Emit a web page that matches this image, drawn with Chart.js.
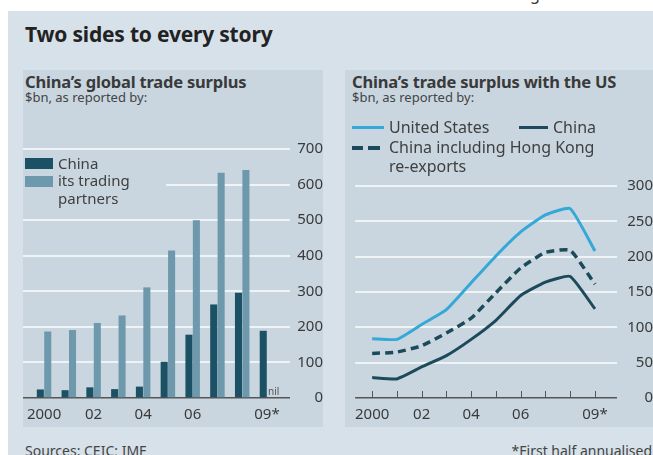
<!DOCTYPE html>
<html lang="en">
<head>
<meta charset="UTF-8">
<title>Two sides to every story</title>
<script src="https://cdn.jsdelivr.net/npm/chart.js"></script>
<style>
  html, body { margin: 0; padding: 0; background: #fff; }
  body { width: 653px; height: 455px; position: relative; overflow: hidden; font-family: "Noto Sans", Lato, sans-serif; color: #333; }
  .panel { position: absolute; left: 8px; top: 11px; right: 0; bottom: 0; background: #d6e1e9; }
  .box { position: absolute; background: #c9d6df; }
  .txt { position: absolute; white-space: nowrap; line-height: 1; }
  .title { font-size: 21px; font-weight: 700; color: #222; letter-spacing: -0.2px; }
  .sub { font-size: 16.5px; font-weight: 700; color: #3a3a3a; letter-spacing: -0.2px; }
  .unit { font-size: 13px; color: #444; }
  .leg { font-size: 16px; color: #3f3f3f; }
  .leg.small { font-size: 15px; }
  .swatch { position: absolute; }
  canvas { position: absolute; }
  .foot { font-size: 14px; color: #444; }
</style>
</head>
<body>
<div class="txt" style="left:530px; top:-14px; font-size:16px;">g</div>
<div class="panel"></div>
<div class="box" style="left:23px; top:70px; width:300px; height:357px;"></div>
<div class="box" style="left:345px; top:70px; width:308px; height:357px;"></div>

<div class="txt title" style="left:25px; top:24px;">Two sides to every story</div>

<div class="txt sub" style="left:25px; top:74px;">China’s global trade surplus</div>
<div class="txt unit" style="left:25px; top:91px;">$bn, as reported by:</div>

<div class="txt sub" style="left:352px; top:74px;">China’s trade surplus with the US</div>
<div class="txt unit" style="left:352px; top:91px;">$bn, as reported by:</div>

<canvas id="globalChart" style="left:23px; top:136px;" width="300" height="291"></canvas>
<canvas id="usChart" style="left:355px; top:173px;" width="298" height="254"></canvas>

<!-- bar legend sits over the gridlines -->
<div class="box" style="left:23px; top:152px; width:143px; height:55px;"></div>
<div class="swatch" style="left:25px; top:158px; width:28px; height:11px; background:#1c5064;"></div>
<div class="swatch" style="left:25px; top:176px; width:28px; height:11px; background:#6e98ab;"></div>
<div class="txt leg small" style="left:58px; top:156px;">China</div>
<div class="txt leg small" style="left:58px; top:173px;">its trading</div>
<div class="txt leg small" style="left:58px; top:191px;">partners</div>

<!-- line legend -->
<div class="swatch" style="left:352px; top:126px; width:32px; height:3px; background:#35a8d8;"></div>
<div class="txt leg" style="left:389px; top:119px;">United States</div>
<div class="swatch" style="left:519px; top:126px; width:29px; height:3px; background:#1d4a5a;"></div>
<div class="txt leg" style="left:553px; top:119px;">China</div>
<div class="swatch" style="left:352px; top:146px; width:11px; height:4px; background:#1d4a5a;"></div>
<div class="swatch" style="left:368px; top:146px; width:12px; height:4px; background:#1d4a5a;"></div>
<div class="txt leg" style="left:389px; top:139px;">China including Hong Kong</div>
<div class="txt leg" style="left:389px; top:158px;">re-exports</div>

<div class="txt foot" style="left:25px; top:444px;">Sources: CEIC; IMF</div>
<div class="txt foot" style="right:1px; top:444px;">*First half annualised</div>

<script>
// years on the x axis, only some of them get a label
const years = ['2000', '01', '02', '03', '04', '05', '06', '07', '08', '09*'];
const labelledYears = [0, 2, 4, 6, 9];

// global trade surplus, $bn
const chinaReported = [24, 22, 30, 25, 32, 102, 178, 263, 296, 189];
const partnersReported = [187, 191, 211, 232, 311, 415, 500, 633, 641, null];

// surplus with the US, $bn
const usReported = [84, 83, 104, 125, 163, 201, 235, 259, 268, 208];
const chinaToUs = [29, 27, 44, 60, 83, 110, 145, 164, 172, 126];
const chinaWithHk = [63, 65, 74, 92, 113, 149, 184, 206, 209, 161];

const globalTicks = [0, 100, 200, 300, 400, 500, 600, 700];
const usTicks = [0, 50, 100, 150, 200, 250, 300];

Chart.defaults.font.family = '"Noto Sans", Lato, sans-serif';
Chart.defaults.font.size = 15;
Chart.defaults.color = '#3a3a3a';
Chart.defaults.animation = false;

const toPoints = arr => arr.map((v, i) => ({ x: i, y: v }));

function xAxis(min, max) {
  return {
    type: 'linear',
    min: min,
    max: max,
    bounds: 'data',
    offset: false,
    grid: { display: false },
    border: { display: false },
    afterBuildTicks: s => { s.ticks = labelledYears.map(v => ({ value: v })); },
    afterFit: s => { s.height = 29; },
    ticks: { autoSkip: false, maxRotation: 0, padding: 0, stepSize: 1, callback: v => years[v] }
  };
}

function yAxis(max, ticks, width) {
  return {
    position: 'right',
    min: 0,
    max: max,
    border: { display: false },
    afterBuildTicks: s => { s.ticks = ticks.map(v => ({ value: v })); },
    afterFit: s => { s.width = width; },
    grid: {
      drawTicks: false,
      color: c => c.tick && c.tick.value === 0 ? '#555' : '#eef3f6',
      lineWidth: c => c.tick && c.tick.value === 0 ? 1.5 : 2
    },
    ticks: { crossAlign: 'far', padding: 4 }
  };
}

// "nil" next to the missing partner bar
const nilLabel = {
  id: 'nilLabel',
  afterDatasetsDraw(chart) {
    const xs = chart.scales.x, ys = chart.scales.y, ctx = chart.ctx;
    ctx.save();
    ctx.font = '10px "Noto Sans", sans-serif';
    ctx.fillStyle = '#555';
    ctx.textBaseline = 'bottom';
    partnersReported.forEach((v, i) => {
      if (v === null) ctx.fillText('nil', xs.getPixelForValue(i) + 1, ys.getPixelForValue(0) - 1);
    });
    ctx.restore();
  }
};

// small year ticks pointing up from the baseline
const yearTicks = {
  id: 'yearTicks',
  beforeDatasetsDraw(chart) {
    const xs = chart.scales.x, ys = chart.scales.y, ctx = chart.ctx;
    const y0 = ys.getPixelForValue(0);
    ctx.save();
    ctx.strokeStyle = '#555';
    ctx.lineWidth = 1;
    years.forEach((_, i) => {
      const x = Math.round(xs.getPixelForValue(i)) + 0.5;
      ctx.beginPath();
      ctx.moveTo(x, y0);
      ctx.lineTo(x, y0 - 7);
      ctx.stroke();
    });
    ctx.restore();
  }
};

new Chart(document.getElementById('globalChart'), {
  type: 'bar',
  data: {
    datasets: [
      { label: 'China', data: toPoints(chinaReported), backgroundColor: '#1c5064',
        categoryPercentage: 0.6, barPercentage: 0.95 },
      { label: 'its trading partners', data: toPoints(partnersReported), backgroundColor: '#6e98ab',
        categoryPercentage: 0.6, barPercentage: 0.95 }
    ]
  },
  options: {
    responsive: false,
    layout: { padding: { top: 8, left: 0, right: 0, bottom: 0 } },
    plugins: { legend: { display: false }, tooltip: { enabled: false } },
    scales: { x: xAxis(-0.85, 9.93), y: yAxis(700, globalTicks, 33) }
  },
  plugins: [nilLabel]
});

new Chart(document.getElementById('usChart'), {
  type: 'line',
  data: {
    datasets: [
      { label: 'United States', data: toPoints(usReported), borderColor: '#35a8d8',
        borderWidth: 3, pointRadius: 0, tension: 0.15 },
      { label: 'China', data: toPoints(chinaToUs), borderColor: '#1d4a5a',
        borderWidth: 3, pointRadius: 0, tension: 0.15 },
      { label: 'China including Hong Kong re-exports', data: toPoints(chinaWithHk), borderColor: '#1d4a5a',
        borderWidth: 3.5, borderDash: [8, 5], pointRadius: 0, tension: 0.15 }
    ]
  },
  options: {
    responsive: false,
    layout: { padding: { top: 8, left: 0, right: 0, bottom: 0 } },
    plugins: { legend: { display: false }, tooltip: { enabled: false } },
    scales: { x: xAxis(-0.69, 9.89), y: yAxis(300, usTicks, 36) }
  },
  plugins: [yearTicks]
});
</script>
</body>
</html>
